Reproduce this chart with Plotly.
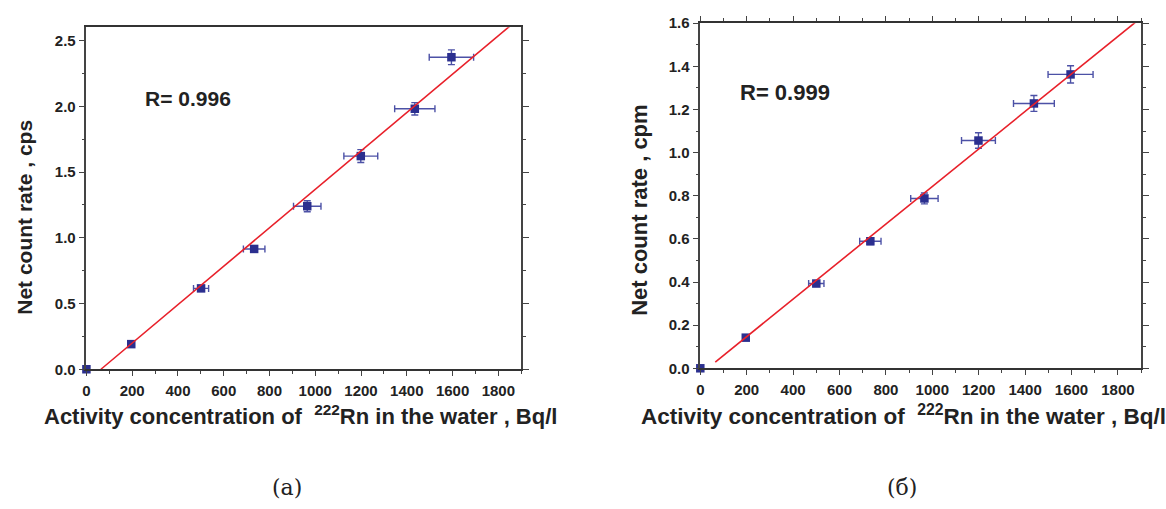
import plotly.graph_objects as go

# ---- data ----
act_a = [0, 196, 501, 733, 965, 1199, 1435, 1595]
rate_a = [0.0, 0.191, 0.615, 0.915, 1.240, 1.621, 1.981, 2.373]
xerr_a = [0, 10, 33, 47, 60, 74, 88, 97]
yerr_a = [0, 0.01, 0.015, 0.02, 0.042, 0.049, 0.047, 0.056]
fit_x_a = [63.6, 1871]
fit_y_a = [0.0, 2.64]

act_b = [0, 196, 500, 733, 966, 1199, 1438, 1596]
rate_b = [0.0, 0.142, 0.393, 0.589, 0.7875, 1.056, 1.228, 1.3626]
xerr_b = [0, 10, 33, 46, 59, 73, 88, 97]
yerr_b = [0, 0.008, 0.01, 0.015, 0.025, 0.036, 0.037, 0.040]
fit_x_b = [64.5, 1874]
fit_y_b = [0.029, 1.603]

x_ticks = [0, 200, 400, 600, 800, 1000, 1200, 1400, 1600, 1800]
y_ticks_a = [0.0, 0.5, 1.0, 1.5, 2.0, 2.5]
y_ticks_b = [0.0, 0.2, 0.4, 0.6, 0.8, 1.0, 1.2, 1.4, 1.6]

W, H = 1166, 509
BLUE = "rgb(43,47,143)"
EBLUE = "rgba(45,50,150,0.85)"
RED = "#e8202a"
FONT = "Liberation Sans, Arial, sans-serif"

fig = go.Figure()


def add_panel(act, rate, xerr, yerr, fx, fy, xa, ya):
    fig.add_trace(go.Scatter(
        x=act, y=rate, mode="markers", xaxis=xa, yaxis=ya,
        marker=dict(symbol="square", size=8.5, color=BLUE),
        error_x=dict(type="data", array=xerr, color=EBLUE, thickness=1.4, width=3.5),
        error_y=dict(type="data", array=yerr, color=EBLUE, thickness=1.4, width=3.5),
        cliponaxis=False, showlegend=False))
    fig.add_trace(go.Scatter(
        x=fx, y=fy, mode="lines", xaxis=xa, yaxis=ya,
        line=dict(color=RED, width=1.6), showlegend=False))


add_panel(act_a, rate_a, xerr_a, yerr_a, fit_x_a, fit_y_a, "x", "y")
add_panel(act_b, rate_b, xerr_b, yerr_b, fit_x_b, fit_y_b, "x2", "y2")

tickfont = dict(family=FONT, size=15, color="#222", weight="bold")


def xaxis(domain, anchor, mirror):
    return dict(domain=domain, anchor=anchor, range=[0, 1900], tickvals=x_ticks,
                ticks="outside", ticklen=5, tickwidth=1.2, tickcolor="#444",
                minor=dict(dtick=100, tick0=0, ticks="outside", ticklen=3, tickcolor="#444"),
                showline=True, linecolor="#333", linewidth=1.5, mirror=mirror,
                showgrid=False, zeroline=False, tickfont=tickfont, ticklabelstandoff=2)


def yaxis(domain, anchor, rng, vals, minor_dt, fmt):
    return dict(domain=domain, anchor=anchor, range=rng, tickvals=vals,
                ticktext=[fmt.format(v) for v in vals],
                ticks="outside", ticklen=6, tickwidth=1.2, tickcolor="#444",
                minor=dict(dtick=minor_dt, tick0=0, ticks="outside", ticklen=3, tickcolor="#444"),
                showline=True, linecolor="#444", linewidth=1.5, mirror="ticks",
                showgrid=False, zeroline=False, tickfont=tickfont)


def px(xp):
    return xp / W


def py(yp):
    return (H - yp) / H


fig.update_layout(
    width=W, height=H, margin=dict(l=0, r=0, t=0, b=0),
    paper_bgcolor="white", plot_bgcolor="white",
    xaxis=xaxis([px(82.7), px(519)], "y", True),
    yaxis=yaxis([py(372.7), py(19)], "x", [0, 2.6], y_ticks_a, 0.25, "{:.1f}"),
    xaxis2=xaxis([px(698.7), px(1141)], "y2", "ticks"),
    yaxis2=yaxis([py(371.7), py(14.7)], "x2", [0, 1.6], y_ticks_b, 0.1, "{:.1f}"),
)

title_font = dict(family=FONT, size=21, color="#222", weight="bold")
ann = [
    dict(text="R= 0.996", x=px(184.5), y=py(93), font=dict(family=FONT, size=21, color="#222", weight="bold")),
    dict(text="R= 0.999", x=px(784), y=py(86), font=dict(family=FONT, size=22, color="#222", weight="bold")),
    dict(text="Net count rate , cps", x=px(21), y=py(215), textangle=-90, font=title_font),
    dict(text="Net count rate , cpm", x=px(637), y=py(208), textangle=-90, font=dict(title_font, size=22)),
    dict(text="Activity concentration of  <sup>222</sup>Rn in the water , Bq/l",
         x=px(298), y=py(420), font=dict(title_font, size=22)),
    dict(text="Activity concentration of  <sup>222</sup>Rn in the water , Bq/l",
         x=px(902.5), y=py(420), font=dict(title_font, size=22.5)),
    dict(text="(а)", x=px(283.7), y=py(495), font=dict(family="DejaVu Serif", size=22, color="#222")),
    dict(text="(б)", x=px(900.8), y=py(495), font=dict(family="DejaVu Serif", size=22, color="#222")),
]
for a in ann:
    a.update(xref="paper", yref="paper", showarrow=False, xanchor="center", yanchor="middle")
fig.update_layout(annotations=ann)

fig.write_html("out.html")
